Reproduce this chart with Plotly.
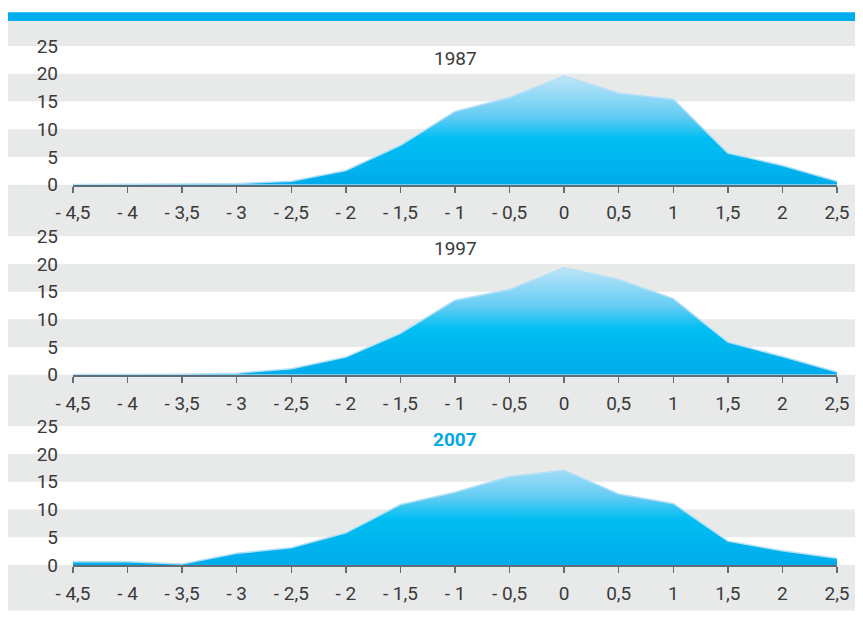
import plotly.graph_objects as go

# ---- data ----
x_vals = [-4.5, -4, -3.5, -3, -2.5, -2, -1.5, -1, -0.5, 0, 0.5, 1, 1.5, 2, 2.5]
x_labels = ["- 4,5", "- 4", "- 3,5", "- 3", "- 2,5", "- 2", "- 1,5", "- 1",
            "- 0,5", "0", "0,5", "1", "1,5", "2", "2,5"]
y_ticks = [0, 5, 10, 15, 20, 25]
years = ["1987", "1997", "2007"]
v1987 = [0.05, 0.05, 0.1, 0.2, 0.6, 2.55, 7.1, 13.2, 15.7, 19.6, 16.5, 15.4, 5.7, 3.45, 0.6]
v1997 = [0.05, 0.05, 0.1, 0.3, 1.1, 3.2, 7.5, 13.45, 15.4, 19.3, 17.2, 13.75, 5.9, 3.3, 0.5]
v2007 = [0.6, 0.6, 0.2, 2.1, 3.1, 5.8, 10.9, 13.1, 15.95, 17.1, 12.8, 11.1, 4.3, 2.55, 1.2]
series = [v1987, v1997, v2007]

# ---- layout constants (pixels, figure coordinates) ----
W, H = 855, 609
L, R, T, B = 65, 26, 38, 47
PANEL_H = 140
GAP = 52
plot_w = W - L - R
plot_h = H - T - B
FONT = "Roboto, Liberation Sans, sans-serif"
TXT = "#3a3a3a"
AXIS = "#5f6d78"
STRIPE = "#e8e9e9"
BLUE = "#00aeef"

fig = go.Figure()
shapes = []
annotations = []
x_left = (0 - L) / plot_w
x_right = (W - L) / plot_w

for i, (yr, vals) in enumerate(zip(years, series)):
    n = "" if i == 0 else str(i + 1)
    top_px = T + i * (PANEL_H + GAP)
    d1 = (H - B - top_px) / plot_h
    d0 = (H - B - top_px - PANEL_H) / plot_h
    fig.add_trace(go.Scatter(
        x=x_vals, y=vals, mode="lines", fill="tozeroy",
        line=dict(color="#b3e0f7", width=1.5),
        fillgradient=dict(type="vertical", start=0, stop=20,
                          colorscale=[[0, "#00abeb"], [0.42, "#00bef2"],
                                      [0.62, "#63ccf3"], [1, "#c4e7f8"]]),
        xaxis="x" + n, yaxis="y" + n, hoverinfo="skip", showlegend=False,
    ))
    fig.update_layout(**{
        "xaxis" + n: dict(domain=[0, 1], anchor="y" + n, range=[-4.5, 2.5],
                          tickvals=x_vals, ticktext=x_labels, showgrid=False,
                          zeroline=False, showline=True, linecolor=AXIS, linewidth=2,
                          ticks="outside", ticklen=6, tickwidth=1.5, tickcolor=AXIS,
                          tickfont=dict(family=FONT, size=19, color=TXT),
                          ticklabelstandoff=4, fixedrange=True),
        "yaxis" + n: dict(domain=[d0, d1], anchor="x" + n, range=[0, 25],
                          tickvals=y_ticks, showgrid=False, zeroline=False,
                          showline=False, ticks="",
                          tickfont=dict(family=FONT, size=19, color=TXT),
                          ticklabelstandoff=14, fixedrange=True),
    })
    yd = "y" + n + " domain"
    bands = [(0.2, 0.4), (0.6, 0.8)]
    below = (GAP if i < 2 else H - (top_px + PANEL_H) - 1) / PANEL_H
    bands.append((-below, 0))
    if i == 0:
        bands.append((1.0, 1.0 + (T - 13) / PANEL_H))
    for b0, b1 in bands:
        shapes.append(dict(type="rect", xref="paper", yref=yd, x0=x_left, x1=x_right,
                           y0=b0, y1=b1, fillcolor=STRIPE, line_width=0, layer="below"))
    is_last = i == 2
    annotations.append(dict(
        text=("<b>%s</b>" % yr) if is_last else yr,
        xref="x" + n + " domain", yref=yd, x=0.5, y=22.7 / 25,
        xanchor="center", yanchor="middle", showarrow=False,
        font=dict(family=FONT, size=19, color="#00a9e6" if is_last else TXT),
    ))

# top blue bar
shapes.append(dict(type="rect", xref="paper", yref="paper", x0=x_left, x1=x_right,
                   y0=(H - B - 12.7) / plot_h, y1=(H - B - 4) / plot_h,
                   fillcolor=BLUE, line_width=0, layer="below"))

fig.update_layout(
    width=W, height=H,
    margin=dict(l=L, r=R, t=T, b=B),
    paper_bgcolor="white", plot_bgcolor="rgba(0,0,0,0)",
    shapes=shapes, annotations=annotations,
    showlegend=False, hovermode=False,
)

fig.write_html("out.html", config={"displayModeBar": False, "staticPlot": True})
